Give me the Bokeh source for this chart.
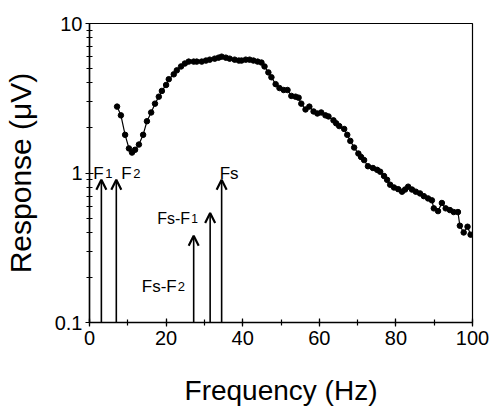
from bokeh.plotting import figure
from bokeh.models import (ColumnDataSource, Range1d, FixedTicker, SingleIntervalTicker,
                          Arrow, OpenHead)
from bokeh.core.properties import value
from bokeh.embed import file_html
from bokeh.resources import INLINE

# ---- data ----
freq = [7.2, 8.2, 9.3, 10.3, 11.1, 11.9, 12.9, 14.0, 15.0, 16.1,
        17.1, 18.1, 18.9, 20.0, 20.7, 22.0, 22.8, 23.9, 24.9, 25.9,
        27.2, 28.0, 29.3, 30.4, 31.4, 32.7, 33.7, 34.5, 35.6, 36.6,
        37.9, 39.0, 39.7, 40.8, 41.8, 42.8, 43.9, 44.9, 45.7, 46.7,
        47.5, 48.6, 49.6, 50.7, 51.7, 52.7, 53.8, 54.6, 55.3, 56.4,
        57.4, 58.5, 59.5, 60.5, 61.6, 62.4, 63.7, 64.4, 65.2, 66.5,
        67.3, 68.1, 69.1, 70.2, 70.9, 71.7, 72.7, 74.0, 75.1, 75.9,
        76.9, 77.7, 78.5, 79.5, 80.6, 81.6, 82.4, 83.2, 84.2, 85.2,
        86.3, 87.3, 88.4, 89.4, 89.9, 91.0, 92.0, 93.0, 94.1, 95.1,
        96.2, 96.7, 97.7, 98.7, 99.5]
resp = [2.78, 2.43, 1.80, 1.46, 1.37, 1.43, 1.55, 1.80, 2.22, 2.54,
        2.91, 3.24, 3.54, 3.88, 4.24, 4.57, 4.86, 5.16, 5.40, 5.56,
        5.56, 5.56, 5.56, 5.65, 5.73, 5.82, 5.91, 6.00, 5.91, 5.82,
        5.73, 5.65, 5.65, 5.73, 5.73, 5.65, 5.56, 5.48, 5.16, 4.71,
        4.37, 3.93, 3.70, 3.59, 3.59, 3.28, 3.24, 3.19, 2.91, 2.66,
        2.78, 2.58, 2.50, 2.54, 2.43, 2.39, 2.25, 2.15, 2.06, 1.97,
        1.80, 1.64, 1.48, 1.35, 1.28, 1.22, 1.11, 1.08, 1.05, 1.02,
        0.955, 0.90, 0.835, 0.80, 0.78, 0.75, 0.775, 0.81, 0.775, 0.75,
        0.73, 0.70, 0.676, 0.656, 0.58, 0.556, 0.63, 0.58, 0.565, 0.548,
        0.548, 0.444, 0.40, 0.437, 0.387]

arrow_freq = [3.1, 7.0, 34.5, 31.5, 27.2]
arrow_top = [0.90, 0.90, 0.90, 0.54, 0.38]
arrow_base = 0.1
label_main = ["F", "F", "Fs", "Fs-F", "Fs-F"]
label_sub = ["1", "2", "", "1", "2"]

y_ticks = [0.1, 1, 10]
y_tick_labels = ["0.1", "1", "10"]
y_minor = [0.2, 0.3, 0.4, 0.5, 0.6, 0.7, 0.8, 0.9, 2, 3, 4, 5, 6, 7, 8, 9]

FONT = "Liberation Sans"

p = figure(width=490, height=408, x_range=Range1d(0, 100), y_range=Range1d(0.1, 10),
           y_axis_type="log", output_backend="svg", toolbar_location=None,
           min_border_left=87, min_border_right=18, min_border_top=23, min_border_bottom=79)

p.background_fill_color = "white"
p.border_fill_color = "white"
p.outline_line_color = "black"
p.outline_line_width = 1.2
p.xgrid.grid_line_color = None
p.ygrid.grid_line_color = None

# x axis
xa = p.xaxis[0]
xa.ticker = SingleIntervalTicker(interval=20, num_minor_ticks=2)
xa.axis_label = "Frequency (Hz)"
# y axis
ya = p.yaxis[0]
ya.ticker = FixedTicker(ticks=y_ticks, minor_ticks=y_minor)
ya.major_label_overrides = {t: l for t, l in zip(y_ticks, y_tick_labels)}
ya.axis_label = "Response (\u03bcV)"

for ax in (xa, ya):
    ax.axis_line_color = "black"
    ax.axis_line_width = 1.5
    ax.major_tick_line_color = "black"
    ax.minor_tick_line_color = "black"
    ax.major_tick_line_width = 1.2
    ax.minor_tick_line_width = 1.2
    ax.major_tick_in = 4
    ax.major_tick_out = 4
    ax.minor_tick_in = 3
    ax.minor_tick_out = 3
    ax.major_label_text_font = FONT
    ax.major_label_text_font_size = "20px"
    ax.major_label_text_color = "black"
    ax.axis_label_text_font = FONT
    ax.axis_label_text_font_style = "normal"
    ax.axis_label_text_color = "black"

xa.major_label_standoff = 4
xa.axis_label_text_font_size = "28px"
xa.axis_label_standoff = 27
ya.major_label_standoff = 3
ya.axis_label_text_font_size = "30px"
ya.axis_label_standoff = 15

# data curve
src = ColumnDataSource(dict(f=freq, r=resp))
p.line("f", "r", source=src, line_color="black", line_width=1.2)
p.scatter("f", "r", source=src, size=5.5, fill_color="black", line_color="black")

# arrows
asrc = ColumnDataSource(dict(x0=arrow_freq, y0=[arrow_base] * len(arrow_freq),
                             x1=arrow_freq, y1=arrow_top))
p.add_layout(Arrow(end=OpenHead(size=10, line_width=2.2, line_color="black"),
                   x_start="x0", y_start="y0", x_end="x1", y_end="y1",
                   source=asrc, line_width=1.6, line_color="black"))

# labels (offsets in screen px relative to arrow tip)
main_off = [(-8, -6, "left"), (5, -6, "left"), (-2, -6, "left"), (-20, 5, "right"), (-17, 51, "right")]
sub_off = [(4, -6, "left"), (17, -6, "left"), (0, 0, "left"), (-19, 5, "left"), (-16, 51, "left")]
main_size = ["17px", "17px", "17px", "16px", "17px"]
sub_size = ["13px", "13px", "13px", "12px", "13px"]
for i in range(len(arrow_freq)):
    mx, my, ma = main_off[i]
    p.text(x=[arrow_freq[i]], y=[arrow_top[i]], text=[label_main[i]],
           x_offset=mx, y_offset=my, text_align=ma, text_baseline="alphabetic",
           text_font=value(FONT), text_font_size=main_size[i], text_color="black")
    if label_sub[i]:
        sx, sy, sa = sub_off[i]
        p.text(x=[arrow_freq[i]], y=[arrow_top[i]], text=[label_sub[i]],
               x_offset=sx, y_offset=sy, text_align=sa, text_baseline="alphabetic",
               text_font=value(FONT), text_font_size=sub_size[i], text_color="black")

open("out.html", "w").write(file_html(p, INLINE))
